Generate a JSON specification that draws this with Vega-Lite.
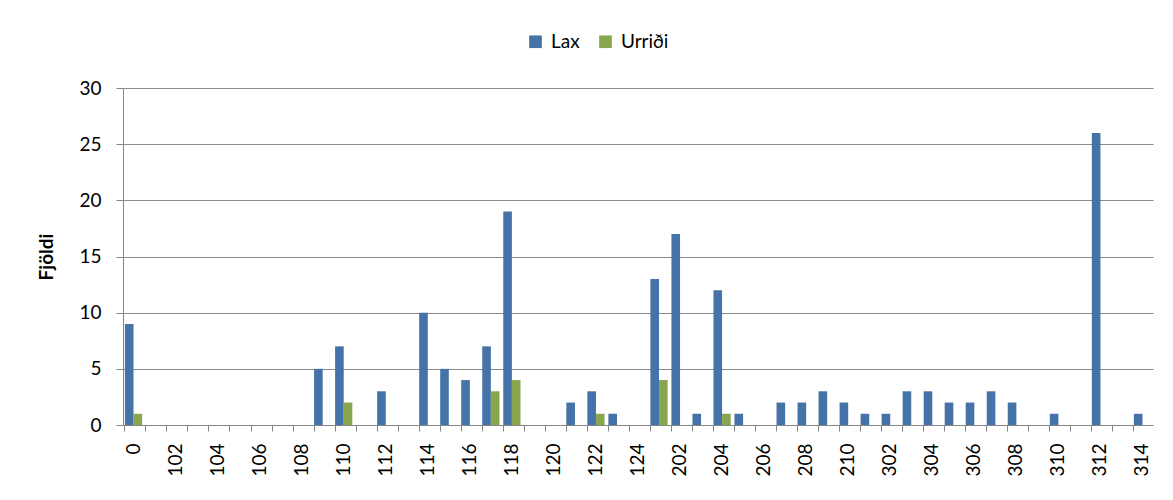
{
  "$schema": "https://vega.github.io/schema/vega-lite/v6.json",
  "width": 1030,
  "height": 337,
  "autosize": {"type": "none"},
  "padding": {"left": 123, "top": 88, "right": 20, "bottom": 75},
  "background": "white",
  "config": {
    "font": "Lato",
    "view": {"stroke": null},
    "axis": {"labelFont": "Lato", "titleFont": "Lato", "labelColor": "#000000", "titleColor": "#000000", "domainColor": "#868686", "tickColor": "#868686"}
  },
  "data": {
    "values": [
      {"site": "0", "species": "Lax", "count": 9},
      {"site": "0", "species": "Urriði", "count": 1},
      {"site": "109", "species": "Lax", "count": 5},
      {"site": "110", "species": "Lax", "count": 7},
      {"site": "110", "species": "Urriði", "count": 2},
      {"site": "112", "species": "Lax", "count": 3},
      {"site": "114", "species": "Lax", "count": 10},
      {"site": "115", "species": "Lax", "count": 5},
      {"site": "116", "species": "Lax", "count": 4},
      {"site": "117", "species": "Lax", "count": 7},
      {"site": "117", "species": "Urriði", "count": 3},
      {"site": "118", "species": "Lax", "count": 19},
      {"site": "118", "species": "Urriði", "count": 4},
      {"site": "121", "species": "Lax", "count": 2},
      {"site": "122", "species": "Lax", "count": 3},
      {"site": "122", "species": "Urriði", "count": 1},
      {"site": "123", "species": "Lax", "count": 1},
      {"site": "201", "species": "Lax", "count": 13},
      {"site": "201", "species": "Urriði", "count": 4},
      {"site": "202", "species": "Lax", "count": 17},
      {"site": "203", "species": "Lax", "count": 1},
      {"site": "204", "species": "Lax", "count": 12},
      {"site": "204", "species": "Urriði", "count": 1},
      {"site": "205", "species": "Lax", "count": 1},
      {"site": "207", "species": "Lax", "count": 2},
      {"site": "208", "species": "Lax", "count": 2},
      {"site": "209", "species": "Lax", "count": 3},
      {"site": "210", "species": "Lax", "count": 2},
      {"site": "301", "species": "Lax", "count": 1},
      {"site": "302", "species": "Lax", "count": 1},
      {"site": "303", "species": "Lax", "count": 3},
      {"site": "304", "species": "Lax", "count": 3},
      {"site": "305", "species": "Lax", "count": 2},
      {"site": "306", "species": "Lax", "count": 2},
      {"site": "307", "species": "Lax", "count": 3},
      {"site": "308", "species": "Lax", "count": 2},
      {"site": "310", "species": "Lax", "count": 1},
      {"site": "312", "species": "Lax", "count": 26},
      {"site": "314", "species": "Lax", "count": 1}
    ]
  },
  "mark": {"type": "bar"},
  "encoding": {
    "x": {
      "field": "site",
      "type": "nominal",
      "sort": null,
      "scale": {
        "domain": ["0","101","102","103","104","105","106","107","108","109","110","111","112","113","114","115","116","117","118","119","120","121","122","123","124","201","202","203","204","205","206","207","208","209","210","301","302","303","304","305","306","307","308","309","310","311","312","313","314"],
        "paddingInner": 0.18,
        "paddingOuter": 0.09
      },
      "axis": {
        "title": null,
        "labelAngle": -90,
        "labelFontSize": 19,
        "labelPadding": 12,
        "tickSize": 6,
        "bandPosition": 0,
        "labelOverlap": false,
        "labelExpr": "indexof(['0','102','104','106','108','110','112','114','116','118','120','122','124','202','204','206','208','210','302','304','306','308','310','312','314'], datum.value) >= 0 ? datum.label : ''",
        "grid": false
      }
    },
    "xOffset": {"field": "species", "type": "nominal", "scale": {"domain": ["Lax", "Urriði"], "paddingInner": 0}},
    "y": {
      "field": "count",
      "type": "quantitative",
      "scale": {"domain": [0, 30], "nice": false},
      "axis": {
        "title": "Fjöldi",
        "titleFontSize": 19,
        "titleFontWeight": "bold",
        "titlePadding": 22,
        "labelFontSize": 19,
        "labelPadding": 15,
        "tickSize": 7,
        "values": [0, 5, 10, 15, 20, 25, 30],
        "grid": true,
        "gridColor": "#8a8a8a",
        "gridWidth": 1
      }
    },
    "color": {
      "field": "species",
      "type": "nominal",
      "scale": {"domain": ["Lax", "Urriði"], "range": ["#4572A7", "#89A54E"]},
      "legend": {
        "title": null,
        "orient": "none",
        "direction": "horizontal",
        "legendX": 403,
        "legendY": -56,
        "symbolType": "square",
        "symbolSize": 160,
        "symbolStrokeWidth": 0,
        "labelFontSize": 19,
        "labelFont": "Lato",
        "labelOffset": 6,
        "columnPadding": 16
      }
    }
  }
}
